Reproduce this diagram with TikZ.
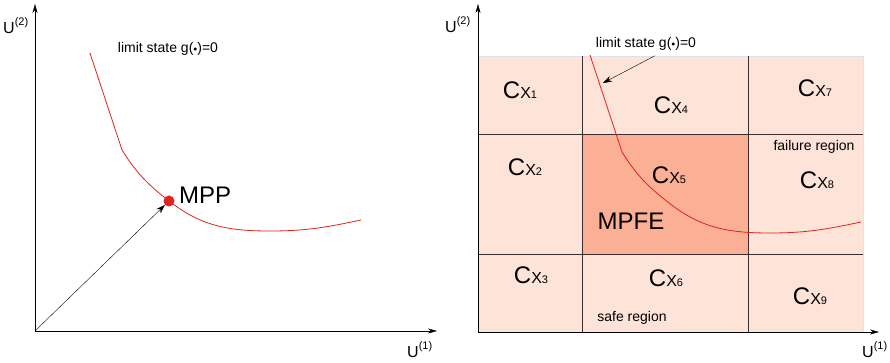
\documentclass[tikz,border=0pt]{standalone}
\usepackage{fontspec}
\setmainfont{Liberation Sans}
\usepackage{xcolor}
\usetikzlibrary{arrows.meta,positioning}

\definecolor{cellfill}{HTML}{FEE3D8}
\definecolor{mpfefill}{HTML}{FBAF94}
\definecolor{gridline}{HTML}{3A2E2E}
\definecolor{frameline}{HTML}{E2DDF0}
\definecolor{curvered}{HTML}{E2231A}

\newcommand{\ulabel}[1]{{\fontsize{16}{16}\selectfont U\raisebox{8pt}{\fontsize{11}{11}\selectfont(#1)}}}
\newcommand{\cxlabel}[1]{{\fontsize{24}{24}\selectfont C\fontsize{16}{16}\selectfont X\fontsize{11}{11}\selectfont #1}}
\newcommand{\gdot}{\raisebox{0.8pt}{\scalebox{0.55}{$\bullet$}}}

\begin{document}
\begin{tikzpicture}[x=1pt,y=1pt,
    axis/.style={-{Stealth[length=9pt,width=5pt]}, thin},
    curve/.style={curvered, line width=0.8pt},
    smalltext/.style={inner sep=0pt, font=\fontsize{14}{16}\selectfont},
    bigtext/.style={inner sep=0pt, font=\fontsize{24}{26}\selectfont},
    cell/.style={inner sep=0pt}]
    \useasboundingbox (0,0) rectangle (890,363);

    % ---- left panel ----
    % Axes
    \coordinate (oL) at (35,32);
    \coordinate (yL) at (35,359);
    \coordinate (xL) at (437,32);
    \draw[axis] (oL) -- (yL);
    \draw[axis] (oL) -- (xL);
    \node[anchor=base west, inner sep=0pt] (u2L) at (3,329) {\ulabel{2}};
    \node[anchor=base west, inner sep=0pt] (u1L) at (407,5) {\ulabel{1}};

    % Limit state curve and MPP
    \draw[curve] (90,310) -- (122,213) to[out=-58,in=142] (169,162)
        to[out=-38,in=180] (270,132) to[out=0,in=-168] (361,143);
    \node[circle, fill=curvered, inner sep=0pt, minimum size=11pt] (mpp) at (169,162) {};
    \node[bigtext, anchor=west] (mpptxt) at (179,168) {MPP};
    \node[smalltext] (lsL) at (168,314) {limit state g(\gdot)=0};
    \draw[-{Stealth[length=9pt,width=6pt]}, thin] (oL) -- (mpp);

    % ---- right panel ----
    % Cells
    \fill[cellfill] (478,31) rectangle (863,307);
    \fill[mpfefill] (582,109) rectangle (748,229);
    \draw[frameline] (478,307) -- (863,307) -- (863,31);
    \draw[gridline] (582,31) -- (582,307);
    \draw[gridline] (748,31) -- (748,307);
    \draw[gridline] (478,229) -- (863,229);
    \draw[gridline] (478,109) -- (863,109);

    % Axes
    \coordinate (oR) at (478,31);
    \coordinate (yR) at (478,359);
    \coordinate (xR) at (879,31);
    \draw[axis] (oR) -- (yR);
    \draw[axis] (oR) -- (xR);
    \node[anchor=base west, inner sep=0pt] (u2R) at (445,330) {\ulabel{2}};
    \node[anchor=base west, inner sep=0pt] (u1R) at (862,5) {\ulabel{1}};

    % Limit state curve
    \draw[curve, shift={(500,-2)}] (90,310) -- (122,213) to[out=-58,in=142] (169,162)
        to[out=-38,in=180] (270,132) to[out=0,in=-168] (361,143);
    \node[smalltext] (lsR) at (646,319) {limit state g(\gdot)=0};
    \coordinate (hit) at (603,280);
    \draw[-{Stealth[length=9pt,width=6pt]}, thin] ([xshift=9pt,yshift=-5pt]lsR.south) -- (hit);

    % Cell labels
    \node[cell] (cx1) at (520,273) {\cxlabel{1}};
    \node[cell] (cx2) at (525,196) {\cxlabel{2}};
    \node[cell] (cx3) at (531,88) {\cxlabel{3}};
    \node[cell] (cx4) at (671,258) {\cxlabel{4}};
    \node[cell] (cx5) at (669,188) {\cxlabel{5}};
    \node[cell] (cx6) at (666,85) {\cxlabel{6}};
    \node[cell] (cx7) at (815,275) {\cxlabel{7}};
    \node[cell] (cx8) at (817,183) {\cxlabel{8}};
    \node[cell] (cx9) at (810,67) {\cxlabel{9}};
    \node[bigtext] (mpfe) at (631,142) {MPFE};
    \node[smalltext] (fail) at (814,216) {failure region};
    \node[smalltext] (safe) at (632,45) {safe region};

\end{tikzpicture}
\end{document}
